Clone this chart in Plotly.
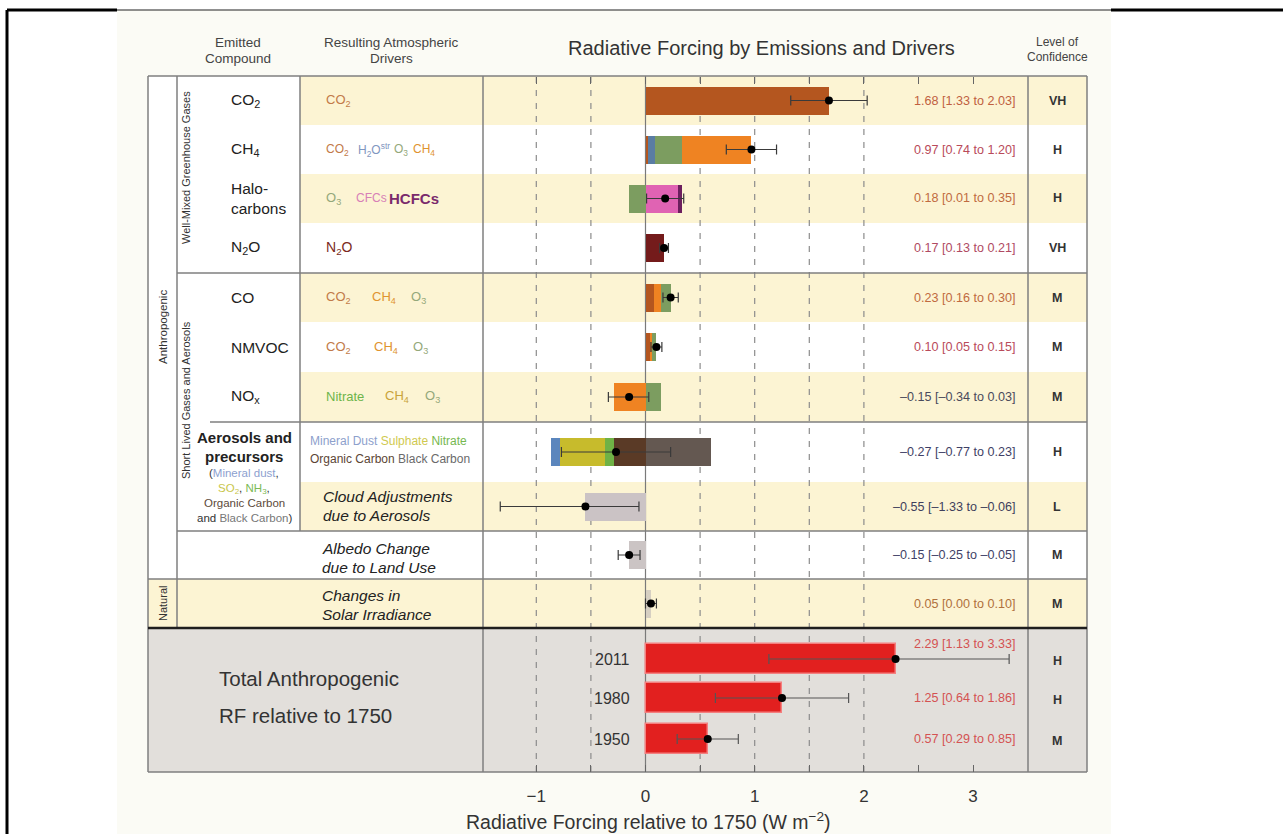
import plotly.graph_objects as go

W, H = 1283, 834
FONT = "Liberation Sans, Arial, Helvetica, sans-serif"

# ---------------- data ----------------
rows = ["CO2", "CH4", "Halocarbons", "N2O", "CO", "NMVOC", "NOx",
        "Aerosols and precursors", "Cloud adjustments", "Albedo change", "Solar irradiance"]
best = [1.68, 0.97, 0.18, 0.17, 0.23, 0.10, -0.15, -0.27, -0.55, -0.15, 0.05]
low = [1.33, 0.74, 0.01, 0.13, 0.16, 0.05, -0.34, -0.77, -1.33, -0.25, 0.00]
high = [2.03, 1.20, 0.35, 0.21, 0.30, 0.15, 0.03, 0.23, -0.06, -0.05, 0.10]
confidence = ["VH", "H", "H", "VH", "M", "M", "M", "H", "L", "M", "M"]

# stacked components (driver, value); negative parts listed from zero outward
comp_co2 = [("CO2", 1.68)]
comp_ch4 = [("CO2", 0.02), ("H2Ostr", 0.07), ("O3", 0.24), ("CH4", 0.64)]
comp_halo = [("O3", -0.15), ("CFCs", 0.30), ("HCFCs", 0.03)]
comp_n2o = [("N2O", 0.17)]
comp_co = [("CO2", 0.08), ("CH4", 0.06), ("O3", 0.09)]
comp_nmvoc = [("CO2", 0.04), ("CH4", 0.02), ("O3", 0.04)]
comp_nox = [("CH4", -0.29), ("O3", 0.14)]
comp_aer = [("OC", -0.29), ("Nitrate", -0.08), ("Sulphate", -0.41), ("Dust", -0.09), ("BC", 0.60)]
comp_cloud = [("Cloud", -0.55)]
comp_albedo = [("Albedo", -0.15)]
comp_solar = [("Solar", 0.05)]
components = [comp_co2, comp_ch4, comp_halo, comp_n2o, comp_co, comp_nmvoc, comp_nox,
              comp_aer, comp_cloud, comp_albedo, comp_solar]

years = ["2011", "1980", "1950"]
total_best = [2.29, 1.25, 0.57]
total_low = [1.13, 0.64, 0.29]
total_high = [3.33, 1.86, 0.85]
total_conf = ["H", "H", "M"]

axis_ticks = [-1, -0.5, 0, 0.5, 1, 1.5, 2, 2.5, 3]
axis_labels = ["\u22121", "", "0", "", "1", "", "2", "", "3"]
grid_vals = [-1, -0.5, 0.5, 1, 1.5, 2]

# ---------------- styles / layout constants ----------------
bar_colors = {
    "CO2": "#b4561f", "H2Ostr": "#5a7da3", "O3": "#7c9d60", "CH4": "#ef8322",
    "CFCs": "#e063b3", "HCFCs": "#6c1f5e", "N2O": "#741b1b",
    "Dust": "#5b86bd", "Sulphate": "#c7bb2c", "Nitrate": "#6fb246",
    "OC": "#5a3a26", "BC": "#645851",
    "Cloud": "#cbc3c5", "Albedo": "#cbc4c4", "Solar": "#d6cfc2",
}
C_TOTAL = "#e2201f"
YELLOW = "#fcf4d3"
GRAY_BG = "#e2dfdb"
LINE = "#7f7f7f"
POS_TXT = ["#c0603f", "#b94a5a", "#c06a40", "#b04a62", "#c06a40", "#b94a5a",
           "#4a4a5c", "#3f3f66", "#3f3f5c", "#3f3f66", "#b0703c"]
TOT_TXT = "#d45252"

ROW_EDGES = [76, 125, 174, 223, 273, 322, 372, 422, 482, 531, 579, 628]
ROW_Y = [(ROW_EDGES[i] + ROW_EDGES[i + 1]) / 2 for i in range(len(rows))]
TOTAL_Y = [659, 698, 739]
BAR_H = 28
X_ZERO_PX, PX_PER_UNIT = 645.5, 109.2
PANEL_L, PANEL_R = 484, 1028


def px(x):
    return x / W


def py(y):
    return 1 - y / H


shapes = []
annotations = []


def rect(x0, y0, x1, y1, fill):
    shapes.append(dict(type="rect", xref="paper", yref="paper", x0=px(x0), x1=px(x1),
                       y0=py(y1), y1=py(y0), fillcolor=fill, line_width=0, layer="below"))


def hline(x0, x1, y, color=LINE, width=1.5):
    shapes.append(dict(type="line", xref="paper", yref="paper", x0=px(x0), x1=px(x1),
                       y0=py(y), y1=py(y), line=dict(color=color, width=width), layer="below"))


def vline(x, y0, y1, color=LINE, width=1.5):
    shapes.append(dict(type="line", xref="paper", yref="paper", x0=px(x), x1=px(x),
                       y0=py(y0), y1=py(y1), line=dict(color=color, width=width), layer="below"))


def text(x, y, t, size, color="#333", xanchor="center", angle=0):
    annotations.append(dict(x=px(x), y=py(y), xref="paper", yref="paper", text=t,
                            showarrow=False, xanchor=xanchor, yanchor="middle",
                            align=("left" if xanchor == "left" else
                                   "right" if xanchor == "right" else "center"),
                            textangle=angle, font=dict(size=size, color=color, family=FONT)))


# ---------------- background, bands ----------------
rect(117, 10, 1111, 834, "#fbfbf5")
rect(148, 76, 1087, 628, "#ffffff")
for i in range(0, len(rows), 2):
    x0 = 148 if i == 10 else 300
    rect(x0, ROW_EDGES[i], 1087, ROW_EDGES[i + 1], YELLOW)
rect(148, 628, 1087, 772, GRAY_BG)

# dashed grid + zero line inside the panel (in data units on x)
for g in grid_vals:
    shapes.append(dict(type="line", xref="x", yref="paper", x0=g, x1=g, y0=py(772), y1=py(76),
                       line=dict(color="#8c8c8c", width=1.2, dash="6px,7px"), layer="below"))
shapes.append(dict(type="line", xref="x", yref="paper", x0=0, x1=0, y0=py(772), y1=py(76),
                   line=dict(color="#7a7a7a", width=1.2), layer="below"))

# table borders
hline(148, 1087, 76)
vline(148, 76, 772)
vline(177, 76, 628)
vline(300, 76, 531)
vline(483, 76, 772)
vline(1028, 76, 772)
vline(1087, 76, 772)
hline(177, 1087, 273)
hline(210, 1087, 422)
hline(177, 1087, 531)
hline(148, 1087, 579)
hline(148, 1087, 628, "#1e1e1e", 2.6)
hline(148, 1087, 772)

# outer black frame
vline(7, 10, 834, "#000000", 3)
hline(7, 117, 10, "#000000", 3)
hline(117, 1111, 10, "#222222", 1.2)
hline(1111, 1283, 10, "#000000", 3)

# ---------------- traces ----------------
fig = go.Figure()

segs = {k: dict(x=[], base=[], y=[]) for k in bar_colors}
for r, comps in enumerate(components):
    pos, neg = 0.0, 0.0
    for name, v in comps:
        if v >= 0:
            segs[name]["base"].append(pos)
            pos += v
        else:
            segs[name]["base"].append(neg)
            neg += v
        segs[name]["x"].append(v)
        segs[name]["y"].append(ROW_Y[r])

for name, s in segs.items():
    if not s["x"]:
        continue
    fig.add_trace(go.Bar(orientation="h", x=s["x"], base=s["base"], y=s["y"], width=BAR_H,
                         marker=dict(color=bar_colors[name], line=dict(width=0)),
                         hoverinfo="skip", showlegend=False))

fig.add_trace(go.Bar(orientation="h", x=total_best, base=[0] * len(total_best), y=TOTAL_Y,
                     width=30, marker=dict(color=C_TOTAL, line=dict(color="#f47f7f", width=1.5)),
                     hoverinfo="skip", showlegend=False))

fig.add_trace(go.Scatter(
    x=best, y=ROW_Y, mode="markers", marker=dict(color="#000000", size=8),
    error_x=dict(type="data", symmetric=False,
                 array=[h - b for h, b in zip(high, best)],
                 arrayminus=[b - l for b, l in zip(best, low)],
                 color="#3a3a3a", thickness=1.2, width=5),
    hoverinfo="skip", showlegend=False))
fig.add_trace(go.Scatter(
    x=total_best, y=TOTAL_Y, mode="markers", marker=dict(color="#000000", size=8),
    error_x=dict(type="data", symmetric=False,
                 array=[h - b for h, b in zip(total_high, total_best)],
                 arrayminus=[b - l for b, l in zip(total_best, total_low)],
                 color="#555555", thickness=1.2, width=5),
    hoverinfo="skip", showlegend=False))
# anchor trace for the top tick axis
fig.add_trace(go.Scatter(x=[0], y=[0], xaxis="x2", mode="markers",
                         marker=dict(opacity=0), hoverinfo="skip", showlegend=False))

# ---------------- texts ----------------
text(238, 42, "Emitted", 13.5, "#444")
text(238, 58, "Compound", 13.5, "#444")
text(391, 42, "Resulting Atmospheric", 13.5, "#444")
text(391, 58, "Drivers", 13.5, "#444")
text(761, 48, "Radiative Forcing by Emissions and Drivers", 20, "#333")
text(1057, 42, "Level of", 12, "#444")
text(1057, 57, "Confidence", 12, "#444")

text(163, 327, "Anthropogenic", 11.5, "#333", angle=-90)
text(186, 168, "Well-Mixed Greenhouse Gases", 11, "#333", angle=-90)
text(186, 400, "Short Lived Gases and Aerosols", 11, "#333", angle=-90)
text(163, 604, "Natural", 11, "#333", angle=-90)

emitted = ["CO<sub>2</sub>", "CH<sub>4</sub>", "Halo-<br>carbons", "N<sub>2</sub>O",
           "CO", "NMVOC", "NO<sub>x</sub>"]
for i, t in enumerate(emitted):
    text(229, ROW_Y[i], t, 15.5, "#222", xanchor="left")

text(244, 438, "<b>Aerosols and</b>", 15, "#222")
text(244, 456, "<b>precursors</b>", 15, "#222")
text(244, 473, "(<span style='color:#8d9fcf'>Mineral dust</span>,", 11.5, "#333")
text(244, 489, "<span style='color:#c9c64a'>SO<sub>2</sub></span>, "
               "<span style='color:#7cba55'>NH<sub>3</sub></span>,", 11.5, "#333")
text(244, 503, "Organic Carbon", 11.5, "#5c4a3a")
text(244, 518, "and <span style='color:#777777'>Black Carbon</span>)", 11.5, "#333")

C_CO2, C_H2O, C_O3, C_CH4 = "#c27a48", "#7f96c0", "#94a87a", "#e0932f"
C_CFC, C_HCFC, C_N2O, C_NIT, C_CH4N = "#d77fb7", "#7a2a6c", "#7a2a22", "#6db54a", "#c9a33a"
driver_words = [
    (0, 324, "CO<sub>2</sub>", C_CO2, 13),
    (1, 324, "CO<sub>2</sub>", C_CO2, 12), (1, 356, "H<sub>2</sub>O<sup>str</sup>", C_H2O, 12),
    (1, 392, "O<sub>3</sub>", C_O3, 12), (1, 411, "CH<sub>4</sub>", C_CH4, 12),
    (2, 324, "O<sub>3</sub>", C_O3, 13), (2, 354, "CFCs", C_CFC, 12),
    (2, 387, "<b>HCFCs</b>", C_HCFC, 15),
    (3, 324, "N<sub>2</sub>O", C_N2O, 14),
    (4, 324, "CO<sub>2</sub>", C_CO2, 13), (4, 370, "CH<sub>4</sub>", C_CH4, 13),
    (4, 409, "O<sub>3</sub>", C_O3, 13),
    (5, 324, "CO<sub>2</sub>", C_CO2, 13), (5, 372, "CH<sub>4</sub>", C_CH4, 13),
    (5, 411, "O<sub>3</sub>", C_O3, 13),
    (6, 324, "Nitrate", C_NIT, 13), (6, 383, "CH<sub>4</sub>", C_CH4N, 13),
    (6, 423, "O<sub>3</sub>", C_O3, 13),
]
for r, x, t, c, s in driver_words:
    text(x, ROW_Y[r], t, s, c, xanchor="left")

text(308, 441, "<span style='color:#8da0cc'>Mineral Dust</span> "
               "<span style='color:#d0c94f'>Sulphate</span> "
               "<span style='color:#76b850'>Nitrate</span>", 12, "#333", xanchor="left")
text(308, 459, "<span style='color:#5c4535'>Organic Carbon</span> "
               "<span style='color:#6a6a6a'>Black Carbon</span>", 12, "#333", xanchor="left")

text(321, 497, "<i>Cloud Adjustments</i>", 15.5, "#222", xanchor="left")
text(321, 515, "<i>due to Aerosols</i>", 15.5, "#222", xanchor="left")
text(320, 548, "<i>Albedo Change</i>", 15.5, "#222", xanchor="left")
text(320, 567, "<i>due to Land Use</i>", 15.5, "#222", xanchor="left")
text(320, 595, "<i>Changes in</i>", 15.5, "#222", xanchor="left")
text(320, 614, "<i>Solar Irradiance</i>", 15.5, "#222", xanchor="left")


def fmt(v):
    return f"{v:.2f}".replace("-", "\u2013")


for i in range(len(rows)):
    text(1018, ROW_Y[i], f"{fmt(best[i])} [{fmt(low[i])} to {fmt(high[i])}]", 12.6, POS_TXT[i],
         xanchor="right")
    text(1057, ROW_Y[i], f"<b>{confidence[i]}</b>", 12.5, "#333")

text(217, 678, "Total Anthropogenic", 20.5, "#333", xanchor="left")
text(217, 715, "RF relative to 1750", 20.5, "#333", xanchor="left")
total_txt_y = [644, 698, 739]
for i, yr in enumerate(years):
    text(632, TOTAL_Y[i], yr, 16, "#333", xanchor="right")
    text(1018, total_txt_y[i],
         f"{fmt(total_best[i])} [{fmt(total_low[i])} to {fmt(total_high[i])}]", 12.6, TOT_TXT,
         xanchor="right")
    text(1057, TOTAL_Y[i] + 2, f"<b>{total_conf[i]}</b>", 12.5, "#333")

text(648, 821, "Radiative Forcing relative to 1750 (W m<sup>\u22122</sup>)", 19.5, "#333")

# ---------------- layout ----------------
x_range = [(PANEL_L - X_ZERO_PX) / PX_PER_UNIT, (PANEL_R - X_ZERO_PX) / PX_PER_UNIT]
axis_common = dict(domain=[px(PANEL_L), px(PANEL_R)], range=x_range, tickvals=axis_ticks,
                   ticks="inside", ticklen=7, tickwidth=1.3, tickcolor="#666666",
                   showgrid=False, zeroline=False, showline=False, fixedrange=True)

fig.update_layout(
    width=W, height=H, margin=dict(l=0, r=0, t=0, b=0),
    paper_bgcolor="#ffffff", plot_bgcolor="rgba(0,0,0,0)",
    barmode="overlay", bargap=0, showlegend=False,
    font=dict(family=FONT, color="#333", size=12),
    xaxis=dict(**axis_common, anchor="y", ticktext=axis_labels,
               tickfont=dict(size=17, color="#333", family=FONT), ticklabelstandoff=12),
    xaxis2=dict(**axis_common, overlaying="x", side="top", anchor="free",
                position=py(76), showticklabels=False),
    yaxis=dict(domain=[py(772), 1], range=[772, 0], visible=False, fixedrange=True),
    shapes=shapes, annotations=annotations,
)

fig.write_html("out.html", config={"displayModeBar": False},
               post_script="document.body.style.margin='0px';")
